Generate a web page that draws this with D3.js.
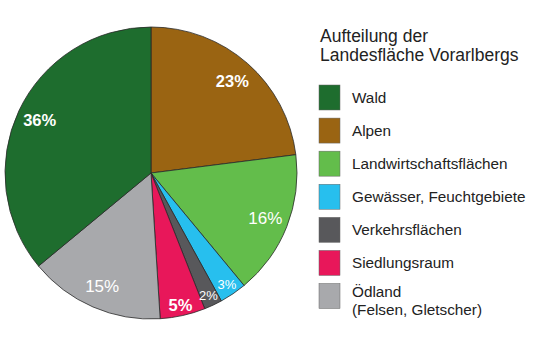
<!DOCTYPE html>
<html><head><meta charset="utf-8">
<script src="https://cdn.jsdelivr.net/npm/d3@7"></script>
<style>body{margin:0;background:#fff;font-family:"Liberation Sans",Arial,sans-serif;}</style>
</head><body>
<svg id="chart" width="540" height="359"></svg>
<script>
const categories = ["Alpen","Landwirtschaftsflächen","Gewässer, Feuchtgebiete","Verkehrsflächen","Siedlungsraum","Ödland (Felsen, Gletscher)","Wald"];
const values = [23,16,3,2,5,15,36];
const pctLabels = ["23%","16%","3%","2%","5%","15%","36%"];
const colors = ["#9a6412","#63bd4b","#27bfee","#58585b","#e8175a","#a8a9ac","#1e6d2e"];
const legendOrder = ["Wald","Alpen","Landwirtschaftsflächen","Gewässer, Feuchtgebiete","Verkehrsflächen","Siedlungsraum","Ödland (Felsen, Gletscher)"];
const legendLines = [["Wald"],["Alpen"],["Landwirtschaftsflächen"],["Gewässer, Feuchtgebiete"],["Verkehrsflächen"],["Siedlungsraum"],["Ödland","(Felsen, Gletscher)"]];
const titleLines = ["Aufteilung der","Landesfläche Vorarlbergs"];

const svg = d3.select("#chart");
const cx = 151, cy = 173, R = 146;
const color = d3.scaleOrdinal().domain(categories).range(colors);
const pie = d3.pie().sort(null).value(d => d.v);
const data = categories.map((c,i)=>({c, v: values[i], lab: pctLabels[i]}));
const arcs = pie(data);
const arc = d3.arc().innerRadius(0).outerRadius(R);
const g = svg.append("g").attr("transform",`translate(${cx},${cy})`);
g.selectAll("path").data(arcs).enter().append("path")
  .attr("d", arc).attr("fill", d=>color(d.data.c))
  .attr("stroke","#2a2a2a").attr("stroke-width",0.8).attr("stroke-linejoin","round");

g.selectAll("text").data(arcs).enter().append("text")
  .attr("transform", d => {
    const small = d.data.v < 10;
    const r = small ? 135 : 123;
    const a = (d.startAngle + d.endAngle)/2;
    return `translate(${Math.sin(a)*r},${-Math.cos(a)*r})`;
  })
  .attr("text-anchor","middle").attr("dy","0.35em")
  .attr("fill","#fff")
  .attr("font-size", d => d.data.v <= 3 ? 13 : (d.data.v===23||d.data.v===36||d.data.v===5) ? 16.5 : 17)
  .attr("font-weight", d => (d.data.v===23||d.data.v===36||d.data.v===5) ? "bold" : "normal")
  .text(d => d.data.lab);

const title = svg.append("text").attr("x",320).attr("y",42).attr("font-size",17.5).attr("fill","#222");
titleLines.forEach((t,i)=> title.append("tspan").attr("x",320).attr("dy", i===0?0:19).text(t));

const ly = d3.scalePoint().domain(legendOrder).range([85, 283.5]);
const lg = svg.append("g");
legendOrder.forEach((c,i)=>{
  const y = ly(c);
  lg.append("rect").attr("x",319).attr("y",y).attr("width",21).attr("height",25)
    .attr("fill",color(c)).attr("stroke","#666").attr("stroke-width",0.5);
  const t = lg.append("text").attr("x",352).attr("y", y + (legendLines[i].length>1 ? 13 : 18))
    .attr("font-size",15.3).attr("fill","#222");
  legendLines[i].forEach((ln,j)=> t.append("tspan").attr("x",352).attr("dy", j===0?0:18.5).text(ln));
});
</script>
</body></html>
